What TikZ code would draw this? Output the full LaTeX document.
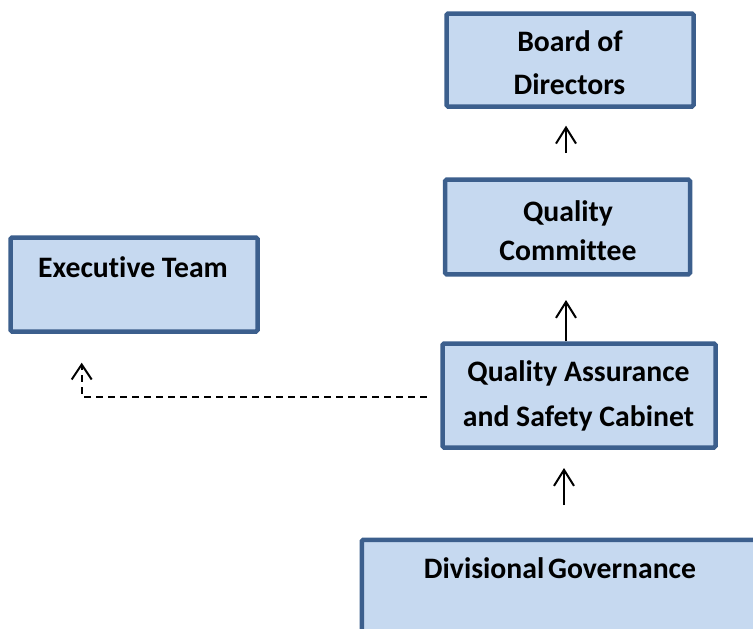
\documentclass[tikz,border=0pt]{standalone}
\usepackage{fontspec}
\setmainfont[Ligatures={NoCommon}]{Carlito}
\usetikzlibrary{arrows.meta}
\definecolor{bdr}{HTML}{3C5F8D}
\definecolor{fillc}{HTML}{C6D9F0}
\tikzset{
  box/.style={draw=bdr, fill=fillc, line width=4.5pt, rounded corners=1.5pt, inner sep=0pt},
  txt/.style={anchor=base, inner sep=0pt, font=\fontsize{29.7}{35}\selectfont\bfseries},
  upar/.style={line width=2pt, -{Straight Barb[length=16pt,width=20pt,line width=2pt]}},
  dasharr/.style={line width=2pt, dash pattern=on 7pt off 5pt, -{Straight Barb[length=15pt,width=20pt,line width=2pt]}}
}
\begin{document}
\begin{tikzpicture}[x=1pt,y=-1pt]
\useasboundingbox (0,0) rectangle (753,629);
\begin{scope}
\clip (0,0) rectangle (753,629);
\node[box, minimum width=247pt, minimum height=93pt] (board) at (570,60) {};
\node[box, minimum width=245pt, minimum height=94.6pt] (qc) at (567.5,227) {};
\node[box, minimum width=273pt, minimum height=104pt] (qa) at (579,395.5) {};
\node[box, minimum width=247pt, minimum height=94pt] (exec) at (134,284.5) {};
\node[box, minimum width=450pt, minimum height=150pt, anchor=north west] (div) at (359.5,537.5) {};
\end{scope}
\node[txt] (t1) at (570,51.7) {Board of};
\node[txt] (t2) at (569.5,94.3) {Directors};
\node[txt] (t3) at (568,221.7) {Quality};
\node[txt] (t4) at (568,260.7) {Committee};
\node[txt] (t5) at (578.5,381.7) {Quality Assurance};
\node[txt] (t6) at (578.5,426) {and Safety Cabinet};
\node[txt] (t7) at (133,277.7) {Executive Team};
\node[txt] (t8) at (560,578.3) {Divisional\hspace{-3pt} Governance};
\coordinate (a1s) at (566,153);
\coordinate (a1e) at (566,125.7);
\coordinate (a2e) at (566,300);
\coordinate (a3s) at (564,505);
\coordinate (a3e) at (564,468);
\coordinate (ds) at (426.7,396.7);
\coordinate (dc) at (81.7,396.7);
\coordinate (de) at (81.7,362.7);
\draw[upar] (a1s) -- (a1e);
\draw[upar] (qa.north -| a2e) -- (a2e);
\draw[upar] (a3s) -- (a3e);
\draw[dasharr] (ds) -- (dc) -- (de);
\end{tikzpicture}
\end{document}
